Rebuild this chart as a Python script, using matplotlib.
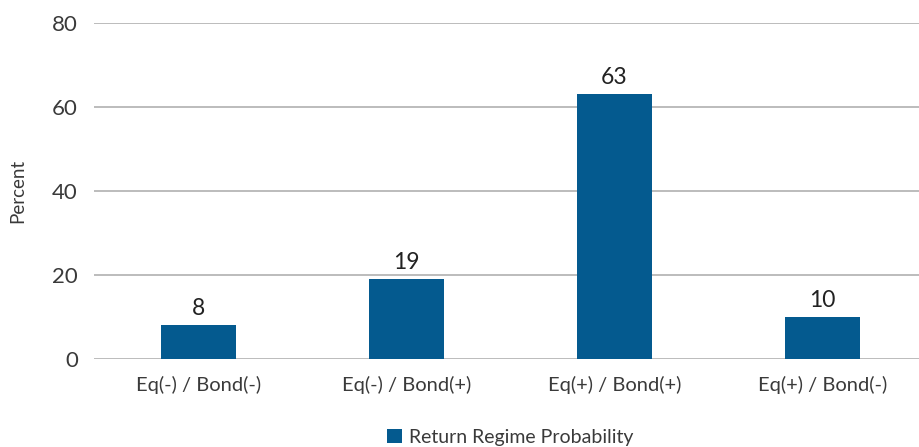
import matplotlib

matplotlib.use("Agg")
import matplotlib.pyplot as plt
import numpy as np

categories = ["Eq(-) / Bond(-)", "Eq(-) / Bond(+)", "Eq(+) / Bond(+)", "Eq(+) / Bond(-)"]
values = [8, 19, 63, 10]
y_ticks = [0, 20, 40, 60, 80]
series_name = "Return Regime Probability"

BAR_COLOR = "#045a8f"
TEXT_COLOR = "#3a3a3a"
GRID_COLOR = "#b0b0b0"

plt.rcParams["font.family"] = ["Lato", "DejaVu Sans"]

fig = plt.figure(figsize=(9.2, 4.47), dpi=100)
# axes runs a little past the right edge, like the source image
ax = fig.add_axes([0.1027, 0.197, 0.904, 0.752])

x = np.arange(len(categories))
ax.bar(x, values, width=0.36, color=BAR_COLOR, zorder=3, label=series_name)

for xi, v in zip(x, values):
    ax.text(xi, v + 1.5, f"{v}", ha="center", va="bottom", fontsize=16.5,
            color="#222222")

ax.set_xlim(-0.5, 3.5)
ax.set_ylim(0, 80)
ax.set_yticks(y_ticks)
ax.set_yticklabels([str(t) for t in y_ticks], fontsize=16, color=TEXT_COLOR)
ax.set_xticks(x)
ax.set_xticklabels(categories, fontsize=14.5, color=TEXT_COLOR)
ax.tick_params(axis="both", length=0)
ax.tick_params(axis="y", pad=12)
ax.tick_params(axis="x", pad=12)
ax.grid(axis="y", color=GRID_COLOR, linewidth=1.2, zorder=0)
for spine in ax.spines.values():
    spine.set_visible(False)

ax.set_ylabel("Percent", fontsize=13.5, color=TEXT_COLOR)
ax.yaxis.set_label_coords(-0.082, 0.5)

ax.legend(loc="upper center", bbox_to_anchor=(0.5, -0.155), frameon=False,
          handlelength=0.75, handleheight=0.75, handletextpad=0.35,
          prop={"size": 14}, labelcolor=TEXT_COLOR)

fig.savefig("out.png", dpi=100)
